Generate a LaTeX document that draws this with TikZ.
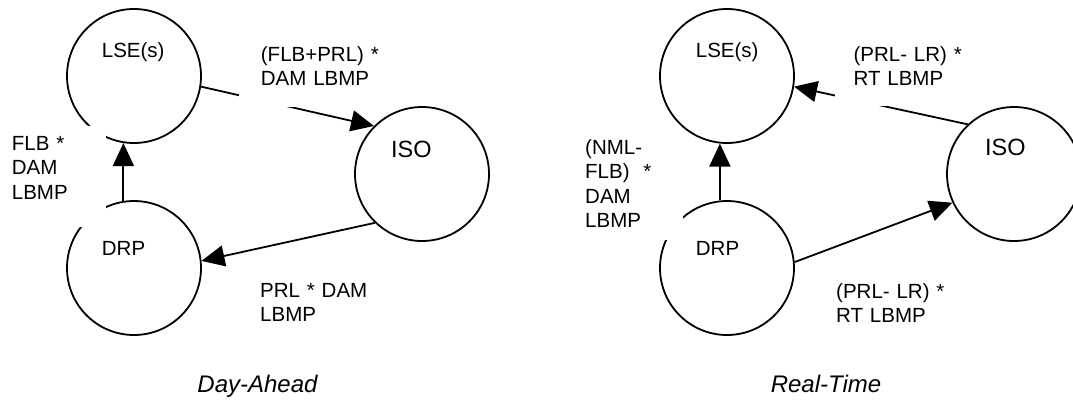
\documentclass[tikz,border=0pt]{standalone}
\usepackage{fontspec}
\setmainfont{Liberation Sans}
\usetikzlibrary{arrows.meta}
\begin{document}
\begin{tikzpicture}[x=1pt,y=-1pt,
  state/.style={circle, draw, line width=1.8pt, minimum size=134pt, inner sep=0pt},
  flow/.style={line width=1.8pt, -{Triangle[length=23pt,width=21pt]}},
  lbl/.style={anchor=base west, inner sep=0pt, align=left, text width=160pt, font=\fontsize{20.5}{24.5}\selectfont},
  nametext/.style={anchor=base west, inner sep=0pt, font=\fontsize{20.5}{24}\selectfont},
  isotext/.style={anchor=base west, inner sep=0pt, font=\fontsize{23.5}{27}\selectfont},
  titletext/.style={anchor=base, inner sep=0pt, font=\fontsize{24}{28}\selectfont\itshape},
  mask/.style={fill=white}]
\useasboundingbox (0,0) rectangle (1073,400);
\clip (0,0) rectangle (1073,400);

% ---------- Day-Ahead ----------
\node[state] (lse1) at (134,76) {};
\node[state] (iso1) at (422,174) {};
\node[state] (drp1) at (134,268) {};
\draw[flow] (lse1.-9) -- (iso1.135);
\draw[flow] (drp1.99.5) -- (lse1.-99.5);
\draw[flow] (iso1.226) -- (drp1.6.3);
\fill[mask] (0,126) rectangle (106,227);
\fill[mask] (239,30) rectangle (380,106.5);
\node[nametext] (tlse1) at (101.7,57.5) {LSE(s)};
\node[isotext] (tiso1) at (391,157) {ISO};
\node[nametext] (tdrp1) at (101.7,255) {DRP};
\node[lbl] (lfp) at (260.7,61) {(FLB+PRL) *\\DAM LBMP};
\node[lbl] (lflb) at (11.7,150) {FLB *\\DAM\\LBMP};
\node[lbl] (lprl) at (260,297) {PRL * DAM\\LBMP};
\node[titletext] (day) at (257.5,392) {Day-Ahead};

% ---------- Real-Time ----------
\node[state] (lse2) at (727,76) {};
\node[state] (iso2) at (1014,174) {};
\node[state] (drp2) at (727,268) {};
\draw[flow] (iso2.133) -- (lse2.-9);
\draw[flow] (drp2.96.8) -- (lse2.-96.8);
\draw[flow] (drp2.5.3) -- (iso2.205);
\fill[mask] (560,130) rectangle (683,240);
\fill[mask] (835,30) rectangle (960,106);
\node[nametext] (tlse2) at (695.7,57.5) {LSE(s)};
\node[isotext] (tiso2) at (985,155) {ISO};
\node[nametext] (tdrp2) at (695.7,255) {DRP};
\node[lbl] (lpl1) at (853.4,61) {(PRL- LR) *\\RT LBMP};
\node[lbl] (lnml) at (585,154) {(NML-\\FLB)~~*\\DAM\\LBMP};
\node[lbl] (lpl2) at (836,298) {(PRL- LR) *\\RT LBMP};
\node[titletext] (real) at (826,392) {Real-Time};
\end{tikzpicture}
\end{document}
